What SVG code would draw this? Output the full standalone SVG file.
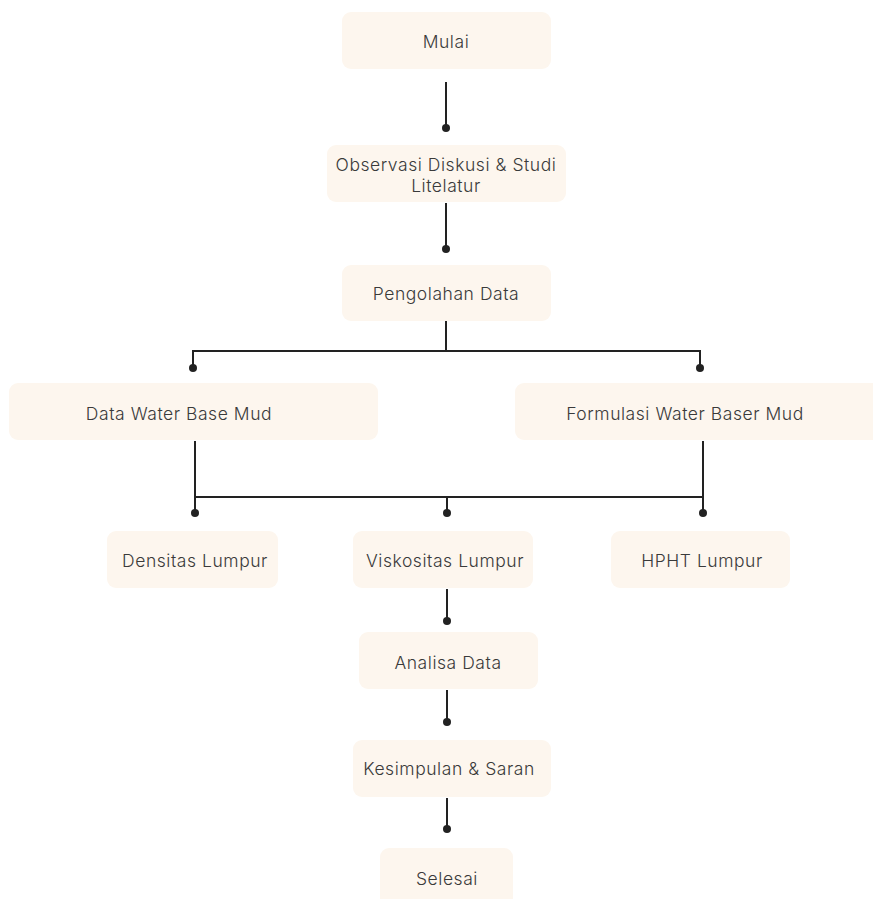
<svg xmlns="http://www.w3.org/2000/svg" width="873" height="899" viewBox="0 0 873 899">
<style>
.box{fill:#fdf6ee;}
.t{font-family:Inter,"Noto Sans","Liberation Sans",sans-serif;font-size:17.5px;font-weight:300;fill:#3a3a3a;text-anchor:middle;dominant-baseline:central;letter-spacing:0.55px;}
.c{stroke:#222;stroke-width:2;fill:none;}
.d{fill:#222;}
</style>
<rect width="873" height="899" fill="#ffffff"/>
<g id="mulai"><rect class="box" x="342" y="12" width="209" height="57" rx="9"/><text class="t" x="446" y="41">Mulai</text></g>
<g id="observasi"><rect class="box" x="327" y="145" width="239" height="57" rx="9"/><text class="t" x="446" y="164">Observasi Diskusi &amp; Studi</text><text class="t" x="446" y="185">Litelatur</text></g>
<g id="pengolahan"><rect class="box" x="342" y="265" width="209" height="56" rx="9"/><text class="t" x="446" y="293">Pengolahan Data</text></g>
<g id="datawbm"><rect class="box" x="9" y="383" width="369" height="57" rx="9"/><text class="t" x="179" y="413">Data Water Base Mud</text></g>
<g id="formulasi"><rect class="box" x="515" y="383" width="368" height="57" rx="9"/><text class="t" x="685" y="413">Formulasi Water Baser Mud</text></g>
<g id="densitas"><rect class="box" x="107" y="531" width="171" height="57" rx="9"/><text class="t" x="195" y="560">Densitas Lumpur</text></g>
<g id="viskositas"><rect class="box" x="353" y="531" width="180" height="57" rx="9"/><text class="t" x="445" y="560">Viskositas Lumpur</text></g>
<g id="hpht"><rect class="box" x="611" y="531" width="179" height="57" rx="9"/><text class="t" x="702" y="560">HPHT Lumpur</text></g>
<g id="analisa"><rect class="box" x="359" y="632" width="179" height="57" rx="9"/><text class="t" x="448" y="662">Analisa Data</text></g>
<g id="kesimpulan"><rect class="box" x="353" y="740" width="198" height="57" rx="9"/><text class="t" x="449" y="768">Kesimpulan &amp; Saran</text></g>
<g id="selesai"><rect class="box" x="380" y="848" width="133" height="60" rx="9"/><text class="t" x="447" y="878">Selesai</text></g>
<g id="connectors">
<path class="c" d="M446 82 V128"/><circle class="d" cx="446" cy="128" r="4"/>
<path class="c" d="M446 203 V249"/><circle class="d" cx="446" cy="249" r="4"/>
<path class="c" d="M446 321 V351 M193 368 V351 H700 V368"/><circle class="d" cx="193" cy="368" r="4"/><circle class="d" cx="700" cy="368" r="4"/>
<path class="c" d="M195 441 V513 M703 441 V513 M195 497 H703 M447 497 V513"/><circle class="d" cx="195" cy="513" r="4"/><circle class="d" cx="447" cy="513" r="4"/><circle class="d" cx="703" cy="513" r="4"/>
<path class="c" d="M447 589 V621"/><circle class="d" cx="447" cy="621" r="4"/>
<path class="c" d="M447 690 V722"/><circle class="d" cx="447" cy="722" r="4"/>
<path class="c" d="M447 798 V829"/><circle class="d" cx="447" cy="829" r="4"/>
</g>
</svg>
